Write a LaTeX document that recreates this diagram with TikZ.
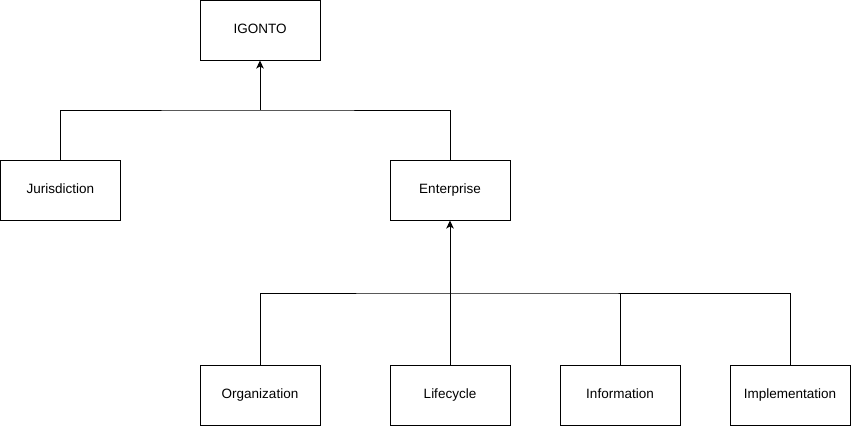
\documentclass[tikz,border=0pt]{standalone}
\usepackage{fontspec}
\setmainfont{Liberation Sans}
\usetikzlibrary{arrows.meta}
\tikzset{
  box/.style={draw=black,line width=1pt,minimum width=120pt,minimum height=60pt,
    inner sep=0pt,text height=1.3ex,text depth=0.1ex,font=\fontsize{13.5}{16}\selectfont},
  link/.style={draw=black,line width=1pt},
  uparrow/.style={link,-{Stealth[length=8pt,width=7.5pt,inset=2pt]}}
}
\begin{document}
\begin{tikzpicture}[x=1pt,y=-1pt]
  \useasboundingbox (0,0) rectangle (851,426);
  \node[box] (igonto) at (260,30) {IGONTO};
  \node[box] (jur) at (60.5,190) {Jurisdiction};
  \node[box] (ent) at (450,190) {Enterprise};
  \foreach\name/\x/\txt in {org/260/Organization,life/450/Lifecycle,info/620/Information,impl/790/Implementation} {
    \node[box] (\name) at (\x,395) {\txt};
  }
  \coordinate (jointop) at (260,110);
  \coordinate (joinbot) at (450,293);
  \draw[link] (jur.north) |- (jointop) -| (ent.north);
  \draw[uparrow] (jointop) -- (igonto.south);
  \draw[link] (org.north) |- (joinbot) -| (impl.north);
  \draw[link] (info.north) -- (info.north |- joinbot);
  \draw[uparrow] (life.north) -- (ent.south);
\end{tikzpicture}
\end{document}
